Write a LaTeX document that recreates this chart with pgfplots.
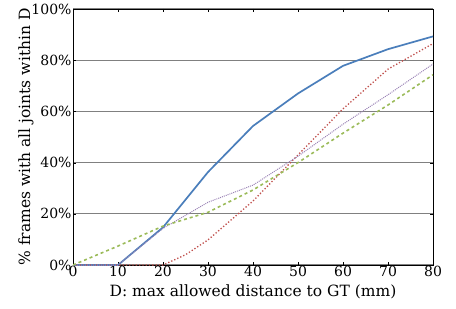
\documentclass[border=0pt]{standalone}
\usepackage{fontspec}
\setmainfont{DejaVu Serif}
\usepackage{pgfplots}
\pgfplotsset{compat=1.18}
\definecolor{cblue}{HTML}{4A7EBB}
\definecolor{cred}{HTML}{C0504D}
\definecolor{cpurple}{HTML}{8064A2}
\definecolor{cgreen}{HTML}{9BBB59}
\begin{document}
\begin{tikzpicture}
\begin{axis}[
  name=ax,
  scale only axis,
  width=360pt, height=256pt,
  xmin=0, xmax=80, ymin=0, ymax=100,
  xtick={0,10,...,80},
  ytick={0,20,...,100},
  yticklabel={\pgfmathprintnumber{\tick}\%},
  /pgf/number format/assume math mode=true,
  ymajorgrids,
  grid style={gray, line width=1.1pt},
  tick align=inside,
  major tick length=3pt,
  axis line style={black, line width=0.9pt},
  tick style={black},
  ticklabel style={font=\fontsize{14}{15}\selectfont},
  xticklabel style={yshift=2pt},
  yticklabel style={xshift=2pt},
  xlabel={D: max allowed distance to GT (mm)},
  ylabel={\% frames with all joints within D},
  label style={font=\fontsize{15.5}{16}\selectfont},
  xlabel style={yshift=-1pt},
  ylabel style={yshift=-9pt},
]
\addplot[cblue, line width=1.7pt] coordinates {
(0,0) (10,0) (20,14.7) (30,36.3) (40,54.3) (50,67) (60,77.8) (70,84.3) (80,89.3)};
\addplot[cred, line width=1.3pt, dotted] coordinates {
(0,0) (10,0) (20,0) (25,4) (30,9.8) (40,25) (50,43) (60,61) (70,76.5) (80,86.5)};
\addplot[cpurple!80, line width=1pt, densely dotted] coordinates {
(0,0) (10,0) (20,14.3) (30,24.5) (40,31.2) (50,42.5) (60,55) (70,66.5) (80,78.5)};
\addplot[cgreen, line width=1.6pt, dash pattern=on 3pt off 3pt] coordinates {
(0,0) (10,7.4) (20,15.2) (30,20.6) (40,29.3) (50,40) (60,51.5) (70,62.5) (80,74.3)};
\end{axis}
\pgfresetboundingbox
\path ([shift={(-73pt,-43pt)}]ax.south west) rectangle ([shift={(23pt,9pt)}]ax.north east);
\end{tikzpicture}
\end{document}
